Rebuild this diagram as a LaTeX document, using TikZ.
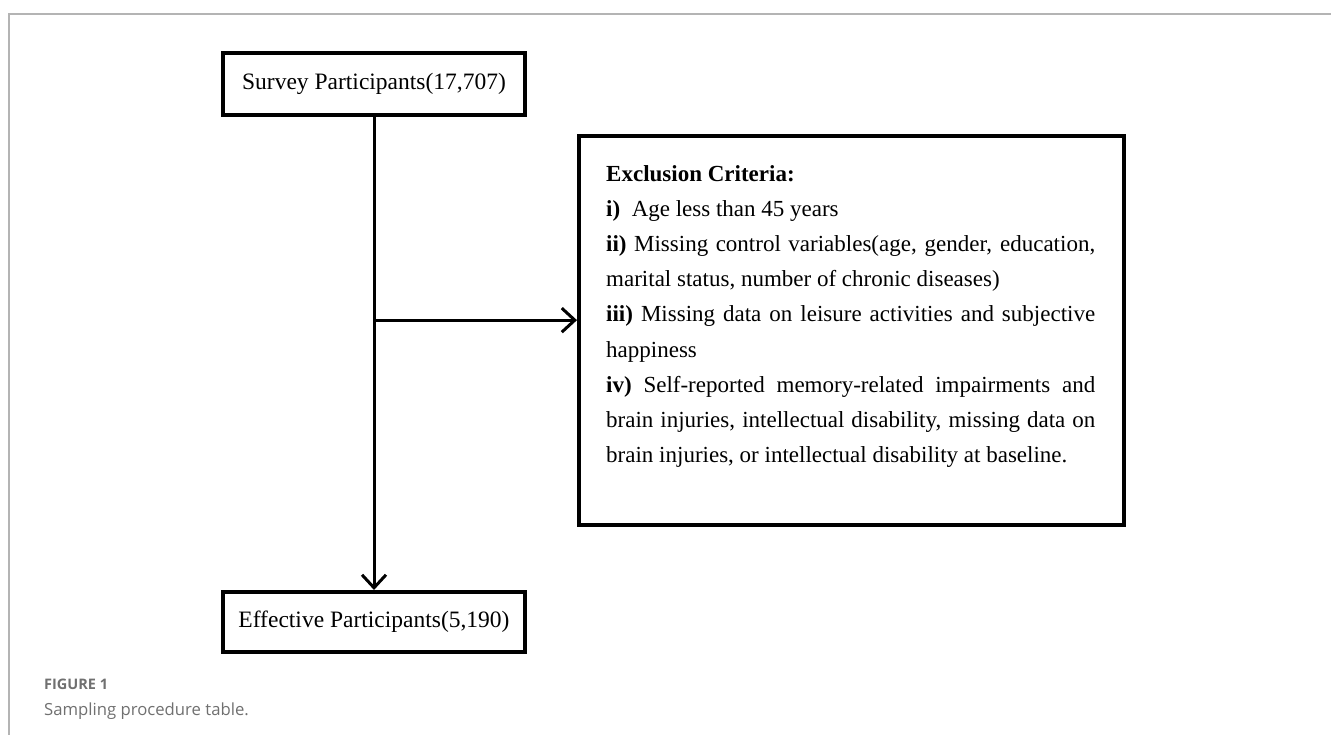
\documentclass[tikz,border=0pt]{standalone}
\usepackage{fontspec}
\setmainfont{Liberation Serif}
\newfontfamily\capfont{Open Sans}
\usetikzlibrary{arrows.meta,positioning,calc}
\definecolor{framegray}{HTML}{B4B4B4}
\definecolor{capgray}{HTML}{707070}
\tikzset{
  box/.style={draw, line width=3.6pt, minimum width=302pt, minimum height=62pt, font=\fontsize{23.5}{28}\selectfont, inner sep=0pt},
  criteriabox/.style={draw, line width=3.6pt, minimum width=545pt, minimum height=389pt, inner sep=0pt},
  arrowline/.style={line width=3pt, -{Straight Barb[length=13pt,width=24pt,line width=3pt]}}
}
\begin{document}
\begin{tikzpicture}[x=1pt, y=-1pt]
\useasboundingbox (0,0) rectangle (1331,735);
% frame of the figure
\draw[framegray, line width=1.2pt] (9,735) -- (9,14) -- (1331,14);
% boxes
\node[box, anchor=north] (survey) at (374,51) {Survey Participants(17,707)};
\node[box, anchor=north, minimum height=60pt] (effective) at (374,590) {Effective Participants(5,190)};
\node[criteriabox, anchor=north west] (criteria) at (577,134) {};
\node[anchor=north west, text width=489pt, align=justify, inner sep=0pt,
      font=\fontsize{23}{35.2}\selectfont] (criteriatext) at (606,165)
  {\textbf{Exclusion Criteria:}\newline
   \textbf{i)}\ \ Age less than 45 years\newline
   \textbf{ii)} Missing control variables(age, gender, education,\linebreak
   marital status, number of chronic diseases)\newline
   \textbf{iii)} Missing data on leisure activities and subjective\linebreak
   happiness\newline
   \textbf{iv)} Self-reported memory-related impairments and\linebreak
   brain injuries, intellectual disability, missing data on\linebreak
   brain injuries, or intellectual disability at baseline.\par};
% connectors
\coordinate (branch) at ($(survey.south)!0.43!(survey.south |- effective.north)$);
\draw[arrowline] (survey.south) -- (survey.south |- effective.north);
\draw[arrowline] (branch) -- (branch -| criteria.west);
% caption
\node[anchor=base west, inner sep=0pt, text=capgray, font=\capfont\fontsize{14.5}{17}\selectfont] (figlabel) at (44,689) {\textbf{FIGURE 1}};
\node[anchor=base west, inner sep=0pt, text=capgray, font=\capfont\fontsize{16.7}{20}\selectfont] (figcaption) at (44,715) {Sampling procedure table.};
\end{tikzpicture}
\end{document}
